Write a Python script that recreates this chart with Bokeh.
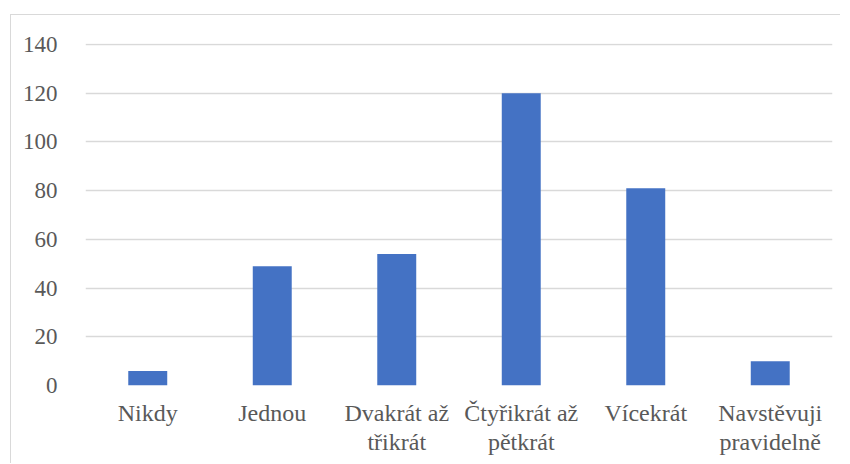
from bokeh.plotting import figure
from bokeh.models import FactorRange, Range1d, FixedTicker, ColumnDataSource, CategoricalAxis
from bokeh.embed import file_html
from bokeh.resources import INLINE

categories = ["Nikdy", "Jednou", "Dvakrát až třikrát", "Čtyřikrát až pětkrát", "Vícekrát", "Navstěvuji pravidelně"]
label_line1 = ["Nikdy", "Jednou", "Dvakrát až", "Čtyřikrát až", "Vícekrát", "Navstěvuji"]
label_line2 = ["", "", "třikrát", "pětkrát", "", "pravidelně"]
values = [6, 49, 54, 120, 81, 10]
y_ticks = [0, 20, 40, 60, 80, 100, 120, 140]

FONT = "Liberation Serif"
TEXT = "#595959"
GRID = "#d9d9d9"

src = ColumnDataSource(dict(cat=categories, val=values))

# factors for the label axes must be unique: pad empty ones with distinct blanks
l2_factors = [t if t else " " * (i + 1) for i, t in enumerate(label_line2)]

p = figure(
    x_range=FactorRange(factors=categories, range_padding=0),
    y_range=Range1d(0, 140.41),
    frame_width=747, frame_height=342,
    min_border_left=74, min_border_top=28, min_border_right=8, min_border_bottom=78,
    output_backend="svg", toolbar_location=None,
    margin=(14, 0, 0, 10),
    styles={"border-left": f"1px solid {GRID}", "border-top": f"1px solid {GRID}"},
)
p.extra_x_ranges = {
    "l1": FactorRange(factors=label_line1, range_padding=0),
    "l2": FactorRange(factors=l2_factors, range_padding=0),
}
p.outline_line_color = None
p.background_fill_color = "white"
p.border_fill_color = "white"

p.vbar(x="cat", top="val", width=0.313, source=src, fill_color="#4472C4", line_color=None)

p.yaxis.ticker = FixedTicker(ticks=y_ticks)
p.ygrid.ticker = FixedTicker(ticks=y_ticks)
p.xgrid.grid_line_color = None
p.ygrid.grid_line_color = GRID
p.ygrid.grid_line_width = 1.3

p.xaxis.visible = False
ax1 = CategoricalAxis(x_range_name="l1")
ax2 = CategoricalAxis(x_range_name="l2")
p.add_layout(ax1, "below")
p.add_layout(ax2, "below")

for ax in (ax1, ax2, p.yaxis[0]):
    ax.axis_line_color = None
    ax.major_tick_line_color = None
    ax.minor_tick_line_color = None
    ax.major_label_text_font = FONT
    ax.major_label_text_color = TEXT

p.yaxis.major_label_text_font_size = "23px"
p.yaxis.major_label_standoff = 22
ax1.major_label_text_font_size = "24px"
ax1.major_label_standoff = 8
ax2.major_label_text_font_size = "24px"
ax2.major_label_standoff = -6

open("out.html", "w").write(file_html(p, INLINE))
